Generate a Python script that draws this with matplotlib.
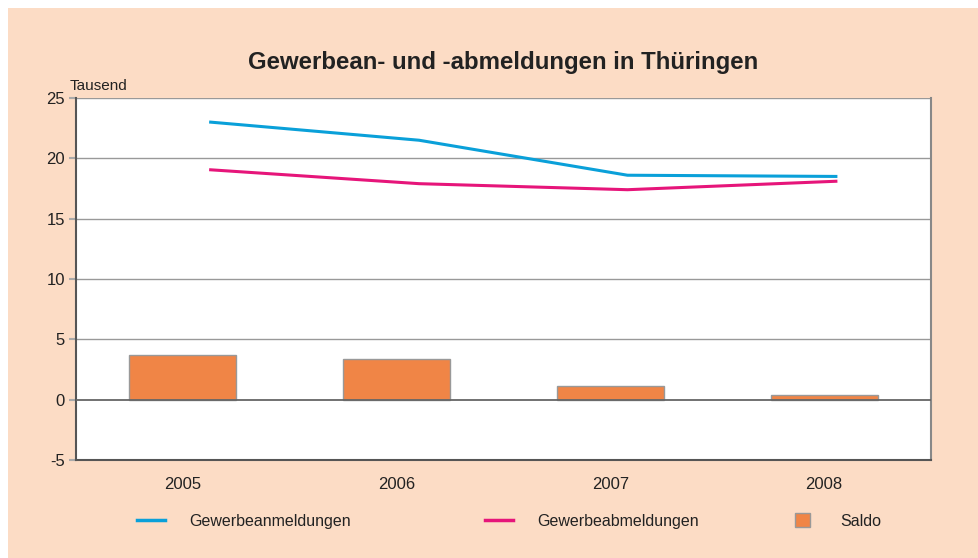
import matplotlib.pyplot as plt
from matplotlib.patches import Rectangle
from matplotlib.lines import Line2D
from matplotlib.patches import Patch

plt.rcParams["font.family"] = ["Liberation Sans", "DejaVu Sans"]
plt.rcParams["axes.unicode_minus"] = False

years = ["2005", "2006", "2007", "2008"]
anmeldungen = [23.0, 21.5, 18.6, 18.5]
abmeldungen = [19.05, 17.9, 17.4, 18.1]
saldo = [3.7, 3.4, 1.1, 0.4]

bg = "#FCDCC5"
blue = "#0AA0D9"
pink = "#E6157A"
orange = "#F08546"

fig = plt.figure(figsize=(9.79, 5.58), dpi=100)
fig.patch.set_facecolor("white")
fig.patches.append(Rectangle((8 / 979, 0), 1, 1 - 8 / 558, transform=fig.transFigure,
                             facecolor=bg, edgecolor="none", zorder=-10))

ax = fig.add_axes([76 / 979, 1 - 460 / 558, (931 - 76) / 979, (460 - 98) / 558])
ax.set_facecolor("white")

xb = list(range(len(years)))
xl = [0.13 + 0.975 * i for i in xb]

ax.bar(xb, saldo, width=0.5, color=orange, edgecolor="#999999", linewidth=1, zorder=3)
ax.plot(xl, anmeldungen, color=blue, lw=2.2, zorder=4)
ax.plot(xl, abmeldungen, color=pink, lw=2.2, zorder=4)

ax.set_xlim(-0.5, 3.5)
ax.set_ylim(-5, 25)
ax.set_yticks([-5, 0, 5, 10, 15, 20, 25])
ax.set_xticks(xb)
ax.set_xticklabels(years)
ax.tick_params(axis="x", length=0, pad=12, labelsize=12, labelcolor="#222222")
ax.tick_params(axis="y", length=5, width=1.5, color="#aaaaaa", pad=3, labelsize=12,
               labelcolor="#222222")

for v in [5, 10, 15, 20, 25]:
    ax.axhline(v, color="#999999", lw=1, zorder=1)
ax.axhline(0, color="#666666", lw=1.3, zorder=5)

ax.spines["top"].set_visible(False)
for s in ["left", "bottom"]:
    ax.spines[s].set_color("#555555")
    ax.spines[s].set_linewidth(1.5)
ax.spines["right"].set_color("#888888")
ax.spines["right"].set_linewidth(1.5)

fig.text(70 / 979, 1 - 86 / 558, "Tausend", fontsize=11, color="#222222", va="center")
fig.text(503 / 979, 1 - 63 / 558, "Gewerbean- und -abmeldungen in Thüringen",
         fontsize=17.3, fontweight="bold", color="#222222", ha="center", va="center")

handles = [Line2D([], [], color=blue, lw=2.5),
           Line2D([], [], color=pink, lw=2.5),
           Patch(facecolor=orange, edgecolor="#999999")]
labels = ["Gewerbeanmeldungen", "Gewerbeabmeldungen", "Saldo"]
pos = [137, 485, 795]
hl = [1.75, 1.75, 0.95]
tp = [1.55, 1.5, 1.9]
for h, l, p, a, b in zip(handles, labels, pos, hl, tp):
    fig.legend([h], [l], loc="center left", bbox_to_anchor=(p / 979, 1 - 521 / 558),
               frameon=False, fontsize=11.5, handlelength=a, handleheight=1.0,
               handletextpad=b, borderpad=0, borderaxespad=0, labelcolor="#222222")

fig.savefig("out.png", dpi=100, facecolor=fig.get_facecolor())
